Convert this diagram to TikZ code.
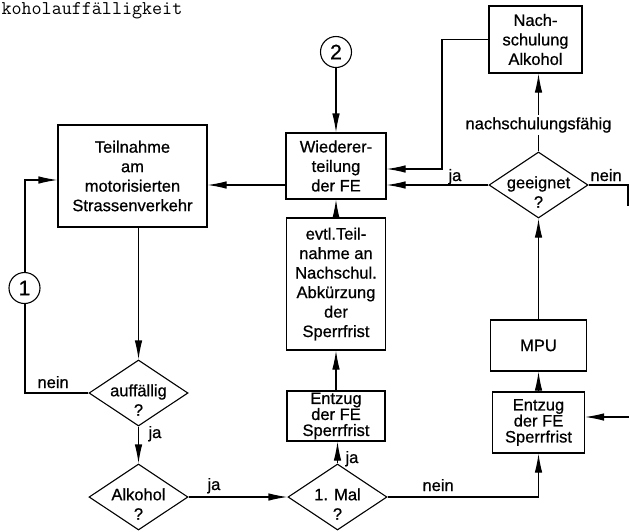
\documentclass[tikz,border=0pt]{standalone}
\usepackage{fontspec}
\setmainfont{Liberation Sans}[FakeBold=0.7]
\usetikzlibrary{arrows.meta,shapes.geometric,calc}

\begin{document}
\begin{tikzpicture}[x=1pt,y=-1pt,
  line width=1.1pt,
  every node/.style={font=\fontsize{16.5}{19.5}\selectfont, inner sep=0pt},
  box/.style={draw, rectangle, align=center},
  dbox/.style={box, font=\fontsize{16.5}{16}\selectfont},
  dia/.style={draw, diamond, minimum width=99pt, minimum height=66pt, inner sep=0pt},
  dtext/.style={align=center, yshift=-7pt},
  conn/.style={draw, circle, minimum size=31pt, fill=white, font=\fontsize{21}{21}\selectfont},
  arr/.style={-{Latex[length=19pt,width=7.5pt]}},
  lbl/.style={anchor=base west},
]
\fill[white] (0,0) rectangle (629,531);
\useasboundingbox (0,0) rectangle (629,531);

% heading fragment
\node[anchor=base west, font=\fontsize{19.5}{20}\ttfamily] (title) at (1,14.5) {koholauffälligkeit};

% boxes
\node[box, minimum width=149pt, minimum height=102pt] (teil) at (132.5,176) {Teilnahme\\am\\motorisierten\\Strassenverkehr};
\node[box, minimum width=100pt, minimum height=66pt] (wied) at (336,166) {Wiederer-\\teilung\\der FE};
\node[box, minimum width=99pt, minimum height=132pt] (evtl) at (336,284) {evtl.Teil-\\nahme an\\Nachschul.\\Abkürzung\\der\\Sperrfrist};
\node[dbox, minimum width=98pt, minimum height=50pt] (ent1) at (336,416) {Entzug\\der FE\\Sperrfrist};
\node[box, minimum width=93pt, minimum height=67pt] (nach) at (535.5,39.5) {Nach-\\schulung\\Alkohol};
\node[box, minimum width=96pt, minimum height=51pt] (mpu) at (538.5,345.5) {MPU};
\node[dbox, minimum width=92pt, minimum height=61pt] (ent2) at (538.5,422.5) {Entzug\\der FE\\Sperrfrist};

% decisions
\node[dia, label={[dtext]center:{auffällig\\?}}] (auf) at (138.5,393) {};
\node[dia, label={[dtext]center:{Alkohol\\?}}] (alk) at (138.5,497) {};
\node[dia, label={[dtext]center:{1. Mal\\?}}] (mal) at (337.5,497) {};
\node[dia, label={[dtext]center:{geeignet\\?}}] (gee) at (538.5,185) {};

% connectors
\coordinate (lb) at (25,393);
\coordinate (lt) at (25,180);
\draw[arr] (auf.west) -- (lb) -- (lt) -- (lt -| teil.west);
\node[conn] (c1) at (24.5,288) {1};
\node[conn] (c2) at (336,52) {2};

\draw[arr] (teil.south -| auf.north) -- (auf.north);
\draw[arr] (auf.south) -- (alk.north);
\draw[arr] (alk.east) -- (mal.west);
\draw[arr] (mal.north) -- (mal.north |- ent1.south);
\draw[arr] (ent1.north) -- (evtl.south);
\draw[arr] (evtl.north) -- (wied.south);
\draw[arr] (c2.south) -- (wied.north);
\draw[arr] (wied.west |- gee.west) -- (teil.east |- gee.west);
\draw[arr] (gee.west) -- (gee.west -| wied.east);
\coordinate (k) at (442,169);
\draw[arr] (nach.west) -| (k) -- (k -| wied.east);
\draw[arr] (gee.north) -- node[pos=0.34, fill=white, inner sep=2pt] (fl) {nachschulungsfähig} (gee.north |- nach.south);
\coordinate (re) at (628,185);
\coordinate (rd) at (628,206);
\draw (gee.east) -- (re) -- (rd);
\draw[arr] (mpu.north) -- (gee.south);
\draw[arr] (ent2.north) -- (mpu.south);
\draw[arr] (mal.east) -| (ent2.south);
\coordinate (ri) at (629,417);
\draw[arr] (ri) -- (ri -| ent2.east);

% branch labels
\node[lbl] (l1) at (37,388) {nein};
\node[lbl] (l2) at (148,438) {ja};
\node[lbl] (l3) at (207,490) {ja};
\node[lbl] (l4) at (422,491) {nein};
\node[lbl] (l5) at (345,463) {ja};
\node[lbl] (l6) at (448,181) {ja};
\node[lbl] (l7) at (590,181) {nein};
\end{tikzpicture}
\end{document}
